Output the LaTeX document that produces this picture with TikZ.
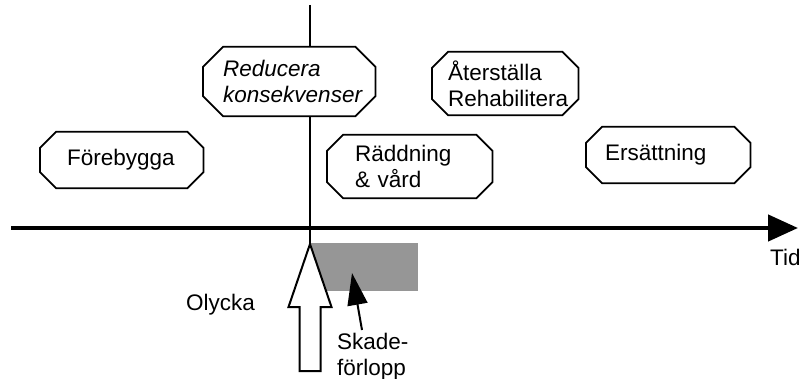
\documentclass[tikz,border=0pt]{standalone}
\usepackage{fontspec}
\setsansfont{Liberation Sans}
\usepackage{xcolor}
\usetikzlibrary{arrows.meta,positioning,calc}

\definecolor{skadegray}{RGB}{150,150,150}

% octagon frame round a named node
\newcommand{\octframe}[2][16pt]{%
  \draw[frame] ($(#2.north west)+(#1,0pt)$) -- ($(#2.north east)+(-#1,0pt)$)
    -- ($(#2.north east)+(0pt,-#1)$) -- ($(#2.south east)+(0pt,#1)$)
    -- ($(#2.south east)+(-#1,0pt)$) -- ($(#2.south west)+(#1,0pt)$)
    -- ($(#2.south west)+(0pt,#1)$) -- ($(#2.north west)+(0pt,-#1)$) -- cycle;}

\begin{document}
\begin{tikzpicture}[x=1pt, y=-1pt,
    txt/.style={font=\sffamily\fontsize{22.5}{26}\selectfont},
    block/.style={txt, rectangle, fill=white, align=left, inner ysep=0pt},
    frame/.style={draw, line width=1.8pt, line join=miter},
    axis/.style={line width=4.5pt, -{Triangle[length=30pt, width=26pt]}},
    pointer/.style={line width=2pt, -{Triangle[length=32pt, width=20pt]}}]

    \useasboundingbox (0,0) rectangle (799,379);

    % Time axis
    \coordinate (start) at (11,228);
    \coordinate (end) at (798,228);
    \draw[axis] (start) -- (end);
    \node[txt, anchor=base west, inner sep=0pt] (tid) at (770,265) {Tid};

    % Accident line
    \coordinate (top) at (310,5);
    \coordinate (hit) at (310,244);
    \draw[line width=2pt] (top) -- (hit);

    % Damage period
    \node[fill=skadegray, minimum width=109, minimum height=48, inner sep=0pt, anchor=north west] (skada) at (309,243) {};

    % Accident arrow
    \draw[line width=2pt, fill=white, line join=miter] (hit) -- ++(21.5,63) -- ++(-11,0) -- ++(0,64)
        -- ++(-21,0) -- ++(0,-64) -- ++(-11,0) -- cycle;
    \node[txt, anchor=base east, inner sep=0pt] (olycka) at (255,310) {Olycka};

    % Damage label
    \node[txt, align=left, anchor=north west, inner sep=0pt] (skadetxt) at (337,333) {Skade-\\förlopp};
    \coordinate (pstart) at (362,330);
    \coordinate (ptip) at (352,273);
    \draw[pointer] (pstart) -- (ptip);

    % Measures
    \node[block, text width=109pt, inner xsep=27pt, minimum height=56pt, anchor=west] (forebygga) at (40,160) {Förebygga};
    \node[block, font=\sffamily\itshape\fontsize{22.5}{26}\selectfont, text width=132pt, inner xsep=20pt, minimum height=69pt, anchor=west] (reducera) at (203,81.5) {Reducera\\konsekvenser};
    \node[block, text width=109pt, inner xsep=28pt, minimum height=63pt, anchor=west] (raddning) at (327,166.5) {Räddning\\\& vård};
    \node[block, text width=114pt, inner xsep=16pt, minimum height=63pt, anchor=west] (aterstalla) at (432,83.5) {Återställa\\Rehabilitera};
    \node[block, text width=126pt, inner xsep=19pt, minimum height=56pt, anchor=west] (ersattning) at (586,155) {Ersättning};

    \octframe{forebygga}
    \octframe[20pt]{reducera}
    \octframe{raddning}
    \octframe{aterstalla}
    \octframe{ersattning}

\end{tikzpicture}
\end{document}
